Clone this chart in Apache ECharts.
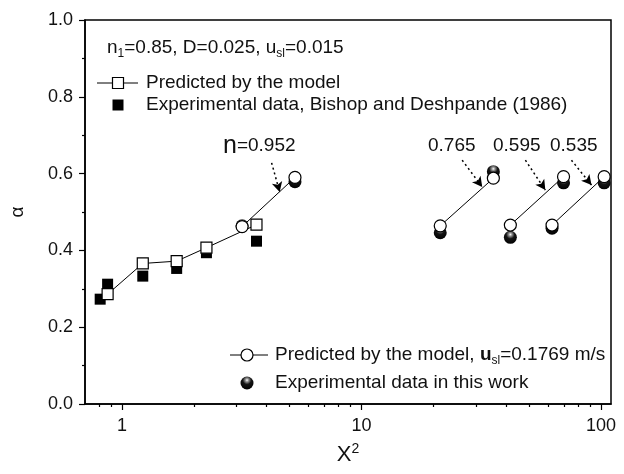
<!DOCTYPE html>
<html>
<head>
<meta charset="utf-8">
<script src="https://cdn.jsdelivr.net/npm/echarts@6.0.0/dist/echarts.min.js"></script>
<style>
  html, body { margin: 0; padding: 0; background: #fff; }
  #chart { width: 624px; height: 474px; }
</style>
</head>
<body>
<div id="chart"></div>
<script>
// values (X^2 on a log axis, alpha linear)
const modelSqX = [0.87, 1.22, 1.69, 2.25, 3.64];
const modelSqY = [0.286, 0.366, 0.372, 0.407, 0.467];
const bishopX = [0.81, 0.87, 1.22, 1.69, 2.25, 3.64];
const bishopY = [0.273, 0.312, 0.333, 0.353, 0.394, 0.424];

// this work: one pair of points per n
const workX = [[3.17, 5.27], [21.3, 35.5], [41.8, 69.7], [62.4, 103]];
const workModel = [[0.462, 0.590], [0.464, 0.588], [0.466, 0.592], [0.466, 0.592]];
const workExp = [[0.464, 0.579], [0.446, 0.605], [0.434, 0.576], [0.458, 0.576]];

// dotted arrows pointing at each pair, in data units
const arrowFrom = [[4.21, 0.628], [26.3, 0.635], [48.3, 0.635], [75.2, 0.635]];
const arrowTo = [[4.55, 0.552], [31.9, 0.565], [58.5, 0.557], [91.2, 0.570]];

// tick labels
const xMajor = [1, 10, 100];
const xMinor = [0.8, 0.9, 2, 3, 4, 5, 6, 7, 8, 9, 20, 30, 40, 50, 60, 70, 80, 90];
const yTicks = [0, 0.2, 0.4, 0.6, 0.8, 1.0];

const lg = Math.log10;
const FONT = "'Liberation Sans', Arial, sans-serif";
const GRID = { left: 85, right: 13, top: 20, bottom: 70 };
const plotH = 474 - GRID.top - GRID.bottom;

const ball = {
    type: 'radial', x: 0.5, y: 0.28, r: 0.72,
    colorStops: [
        { offset: 0, color: '#ffffff' },
        { offset: 0.16, color: '#9a9a9a' },
        { offset: 0.45, color: '#151515' },
        { offset: 1, color: '#000000' }
    ]
};
const openItem = { color: '#fff', borderColor: '#000', borderWidth: 1.2, opacity: 1 };

const chart = echarts.init(document.getElementById('chart'));

const series = [];
series.push({
    type: 'line',
    data: modelSqX.map((x, i) => [lg(x), modelSqY[i]]),
    symbol: 'rect', symbolSize: 11,
    itemStyle: openItem,
    lineStyle: { color: '#000', width: 1 }
});
series.push({
    type: 'scatter',
    data: bishopX.map((x, i) => [lg(x), bishopY[i]]),
    symbol: 'rect', symbolSize: 11,
    itemStyle: { color: '#000', opacity: 1 }
});
workX.forEach((xs, g) => {
    series.push({
        type: 'line',
        data: xs.map((x, i) => [lg(x), workModel[g][i]]),
        symbol: 'circle', symbolSize: 12,
        itemStyle: openItem,
        lineStyle: { color: '#000', width: 1 },
        markLine: {
            silent: true,
            symbol: ['none', 'arrow'],
            symbolSize: [8, 10],
            label: { show: false },
            lineStyle: { type: [2, 3], color: '#000', width: 1.5, opacity: 1 },
            data: [[
                { coord: [lg(arrowFrom[g][0]), arrowFrom[g][1]] },
                { coord: [lg(arrowTo[g][0]), arrowTo[g][1]] }
            ]]
        }
    });
});
series.push({
    type: 'scatter',
    data: workX.flatMap((xs, g) => xs.map((x, i) => [lg(x), workExp[g][i]])),
    symbol: 'circle', symbolSize: 13,
    itemStyle: { color: ball, opacity: 1 }
});

const subRich = {
    t: { fontSize: 19, fontFamily: FONT, lineHeight: 24 },
    b: { fontSize: 19, fontFamily: FONT, fontWeight: 'bold', lineHeight: 24 },
    s: { fontSize: 12, fontFamily: FONT, lineHeight: 14, verticalAlign: 'bottom' },
    n: { fontSize: 25, fontFamily: FONT, lineHeight: 24 }
};
const richTxt = (x, y, text) => ({
    type: 'text', x: x, y: y, z: 100,
    style: { text: text, rich: subRich, fill: '#111', verticalAlign: 'middle', align: 'left' }
});

const option = {
    animation: false,
    backgroundColor: '#fff',
    grid: Object.assign({
        show: true, borderColor: '#000', borderWidth: 1.5,
        outerBoundsMode: 'none'
    }, GRID),
    xAxis: [{
        type: 'value', min: lg(0.7), max: lg(110), position: 'bottom',
        name: '{x|X}{s|2}', nameLocation: 'middle', nameGap: 38,
        nameTextStyle: {
            rich: {
                x: { fontSize: 22, fontFamily: FONT, color: '#111', lineHeight: 26 },
                s: { fontSize: 14, fontFamily: FONT, color: '#111', lineHeight: 14, verticalAlign: 'top' }
            }
        },
        axisLine: { show: true, onZero: false, lineStyle: { color: '#000', width: 1.5 } },
        axisTick: { show: true, length: 6, lineStyle: { color: '#000', width: 1.2 }, customValues: xMajor.map(lg) },
        axisLabel: {
            customValues: xMajor.map(lg), margin: 13,
            fontSize: 18, fontFamily: FONT, color: '#111',
            formatter: v => String(Math.round(Math.pow(10, v)))
        },
        splitLine: { show: false }
    }, {
        // minor ticks only: a top axis moved down onto the bottom edge
        type: 'value', min: lg(0.7), max: lg(110), position: 'top', offset: -plotH,
        axisLine: { show: false, onZero: false },
        axisTick: { show: true, inside: true, length: 3, lineStyle: { color: '#000', width: 1.2 }, customValues: xMinor.map(lg) },
        axisLabel: { show: false },
        splitLine: { show: false }
    }],
    yAxis: {
        type: 'value', min: 0, max: 1, interval: 0.2,
        name: 'α', nameLocation: 'middle', nameGap: 58,
        nameTextStyle: { fontSize: 19, fontFamily: FONT, color: '#111' },
        axisLine: { show: true, onZero: false, lineStyle: { color: '#000', width: 1.5 } },
        axisTick: { show: true, length: 6, lineStyle: { color: '#000', width: 1.2 } },
        minorTick: { show: true, splitNumber: 2, length: 3, lineStyle: { color: '#000', width: 1.2 } },
        axisLabel: {
            margin: 12, fontSize: 18, fontFamily: FONT, color: '#111',
            formatter: v => yTicks.includes(+v.toFixed(1)) ? v.toFixed(1) : ''
        },
        splitLine: { show: false }
    },
    series: series,
    graphic: [
        // annotations
        richTxt(223, 146, '{n|n}{t|=0.952}'),
        richTxt(428, 146, '{t|0.765}'),
        richTxt(493, 146, '{t|0.595}'),
        richTxt(550, 146, '{t|0.535}'),
        // top legend
        richTxt(107, 48, '{t|n}{s|1}{t|=0.85, D=0.025, u}{s|sl}{t|=0.015}'),
        { type: 'line', shape: { x1: 97, y1: 83, x2: 138, y2: 83 }, style: { stroke: '#000', lineWidth: 1 } },
        { type: 'rect', z: 100, shape: { x: 112.5, y: 77.5, width: 11, height: 11 }, style: { fill: '#fff', stroke: '#000', lineWidth: 1.2 } },
        richTxt(146, 83, '{t|Predicted by the model}'),
        { type: 'rect', z: 100, shape: { x: 112.5, y: 99.5, width: 11, height: 11 }, style: { fill: '#000' } },
        richTxt(146, 105, '{t|Experimental data, Bishop and Deshpande (1986)}'),
        // bottom legend
        { type: 'line', shape: { x1: 230, y1: 355, x2: 268, y2: 355 }, style: { stroke: '#000', lineWidth: 1 } },
        { type: 'circle', z: 100, shape: { cx: 247, cy: 355, r: 6 }, style: { fill: '#fff', stroke: '#000', lineWidth: 1.2 } },
        richTxt(275, 355, '{t|Predicted by the model, }{b|u}{s|sl}{t|=0.1769 m/s}'),
        { type: 'circle', z: 100, shape: { cx: 247, cy: 383, r: 6.5 }, style: { fill: ball } },
        richTxt(275, 383, '{t|Experimental data in this work}')
    ]
};

chart.setOption(option);
</script>
</body>
</html>
